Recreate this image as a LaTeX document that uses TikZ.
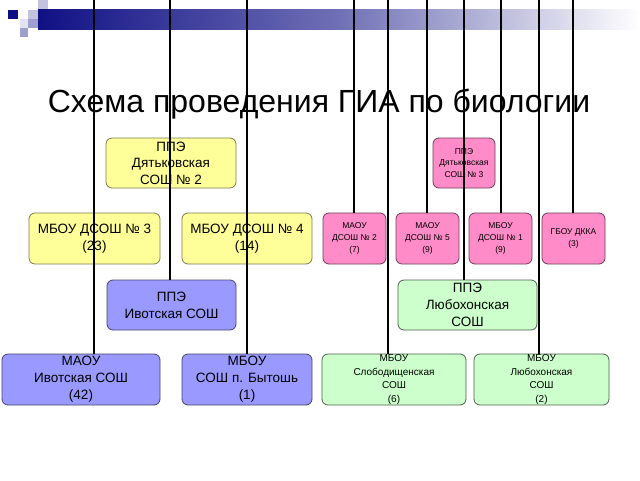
\documentclass[tikz,border=0pt]{standalone}
\usepackage{fontspec}
\setmainfont{Liberation Sans}
\definecolor{ylw}{HTML}{FFFF99}
\definecolor{ylwb}{HTML}{7A7A50}
\definecolor{pnk}{HTML}{FF8CC8}
\definecolor{pnkb}{HTML}{6A4058}
\definecolor{lav}{HTML}{9999FF}
\definecolor{lavb}{HTML}{48486A}
\definecolor{grn}{HTML}{CCFFCC}
\definecolor{grnb}{HTML}{506050}
\definecolor{navy}{HTML}{101085}
\newcommand{\mkbox}[7]{%
  \node[box,#6,minimum width={(#4)-(#2)},minimum height={(#5)-(#3)}]
    (#1) at ({((#2)+(#4))/2},{((#3)+(#5))/2}) {#7};}
\begin{document}
\begin{tikzpicture}[x=1pt,y=-1pt,
  box/.style={draw,rounded corners=6pt,line width=0.8pt,inner sep=0pt,align=center},
  yb/.style={fill=ylw,draw=ylwb,font=\fontsize{13.5}{16.5}\selectfont},
  pb/.style={fill=pnk,draw=pnkb,font=\fontsize{8.5}{11.8}\selectfont},
  lb/.style={fill=lav,draw=lavb,font=\fontsize{13.5}{17}\selectfont},
  gb/.style={fill=grn,draw=grnb,font=\fontsize{13.5}{17}\selectfont},
  gs/.style={fill=grn,draw=grnb,font=\fontsize{10}{13.5}\selectfont},
  wire/.style={line width=1.5pt,black}]
\useasboundingbox (0,0) rectangle (640,480);
\fill[white] (0,0) rectangle (640,480);
% header decoration
\shade[left color=navy,right color=white,middle color=navy!60!white] (38,9) rectangle (640,29);
\fill[navy] (8,10) rectangle (18,19);
\fill[navy!25] (28,10) rectangle (38,19);
\fill[navy!25] (38,0) rectangle (48,9);
\fill[navy!12] (20,19) rectangle (28,28);
\fill[navy!40] (28,19) rectangle (38,28);
\fill[navy!40] (20,28) rectangle (28,37);
% title
\node[font=\fontsize{32}{38}\selectfont,inner sep=0pt] (title) at (319,104) {Схема проведения ГИА по биологии};
% boxes
\mkbox{p2}{106}{138}{236}{188}{yb}{ППЭ\\Дятьковская\\СОШ № 2}
\mkbox{p3}{433}{138}{495}{188}{pb}{ППЭ\\Дятьковская\\СОШ № 3}
\mkbox{d3}{29}{213}{160}{264}{yb}{МБОУ ДСОШ № 3\\(23)}
\mkbox{d4}{182}{213}{312}{264}{yb}{МБОУ ДСОШ № 4\\(14)}
\mkbox{d2}{323}{213}{386}{264}{pb}{МАОУ\\ДСОШ № 2\\(7)}
\mkbox{d5}{396}{213}{459}{264}{pb}{МАОУ\\ДСОШ № 5\\(9)}
\mkbox{d1}{469}{213}{532}{264}{pb}{МБОУ\\ДСОШ № 1\\(9)}
\mkbox{gk}{542}{213}{605}{264}{pb}{ГБОУ ДККА\\(3)}
\mkbox{pi}{107}{280}{236}{330}{lb}{ППЭ\\Ивотская СОШ}
\mkbox{pl}{398}{280}{537}{330}{gb}{ППЭ\\Любохонская\\СОШ}
\mkbox{mi}{2}{354}{160}{405}{lb}{МАОУ\\Ивотская СОШ\\(42)}
\mkbox{mb}{182}{354}{312}{405}{lb}{МБОУ\\СОШ п. Бытошь\\(1)}
\mkbox{ms}{322}{354}{466}{405}{gs}{МБОУ\\Слободищенская\\СОШ\\(6)}
\mkbox{ml}{474}{354}{609}{405}{gs}{МБОУ\\Любохонская\\СОШ\\(2)}
% wires from the top edge
\coordinate (t1) at (94,0);
\coordinate (t2) at (170,0);
\coordinate (t3) at (247,0);
\coordinate (t4) at (354,0);
\coordinate (t5) at (388,0);
\coordinate (t6) at (427,0);
\coordinate (t7) at (464,0);
\coordinate (t8) at (501,0);
\coordinate (t9) at (539,0);
\coordinate (t10) at (573,0);
\draw[wire] (t1) -- (t1 |- mi.north);
\draw[wire] (t2) -- (t2 |- pi.north);
\draw[wire] (t3) -- (t3 |- mb.north);
\draw[wire] (t4) -- (t4 |- d2.north);
\draw[wire] (t5) -- (t5 |- ms.north);
\draw[wire] (t6) -- (t6 |- d5.north);
\draw[wire] (t7) -- (t7 |- pl.north);
\draw[wire] (t8) -- (t8 |- d1.north);
\draw[wire] (t9) -- (t9 |- ml.north);
\draw[wire] (t10) -- (t10 |- gk.north);
\end{tikzpicture}
\end{document}
